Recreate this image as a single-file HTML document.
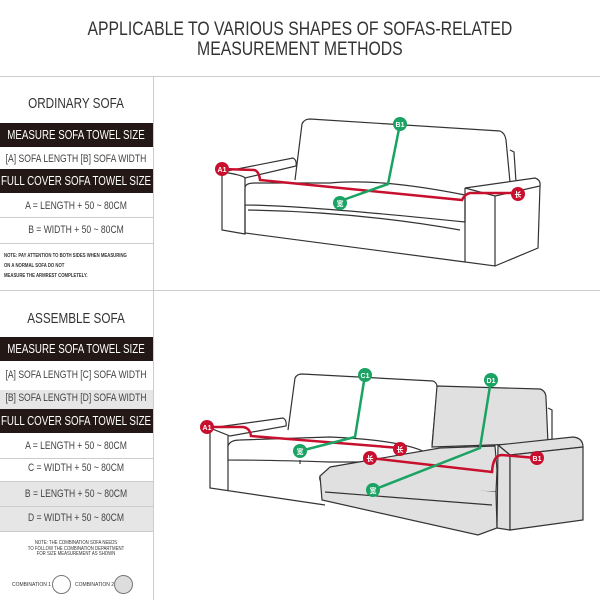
<!DOCTYPE html>
<html><head><meta charset="utf-8"><style>
body{margin:0;width:600px;height:600px;background:#fff;overflow:hidden;position:relative;font-family:"Liberation Sans",sans-serif;color:#333}
.a{position:absolute;left:0;width:153px;text-align:left;white-space:nowrap;overflow:hidden}
.a span{position:relative;left:76px;display:inline-block;text-align:center;transform:translateX(-50%) scaleX(0.78);transform-origin:center}
.bar{background:#231815;color:#fff;font-size:12.5px;line-height:24px;height:24px}
.row{font-size:11px;color:#444}
.line{position:absolute;left:0;width:153px;height:1px;background:#ccc}
.gray{background:#e6e6e6}
.note{position:absolute;font-size:5px;color:#333;left:4px;line-height:10px;font-weight:bold;transform:scaleX(0.85);transform-origin:left}
</style></head><body>
<div style="position:absolute;top:20px;left:0;width:600px;text-align:center;font-size:19px;line-height:20px;color:#333"><span style="display:inline-block;transform:scaleX(0.83)">APPLICABLE TO VARIOUS SHAPES OF SOFAS-RELATED<br>MEASUREMENT METHODS</span></div>
<div style="position:absolute;top:76px;left:0;width:600px;height:1px;background:#ccc"></div>
<div style="position:absolute;top:290px;left:0;width:600px;height:1px;background:#ccc"></div>
<div style="position:absolute;top:76px;left:153px;width:1px;height:524px;background:#ccc"></div>

<div class="a" style="top:95px;font-size:15px"><span>ORDINARY SOFA</span></div>
<div class="a bar" style="top:123px"><span>MEASURE SOFA TOWEL SIZE</span></div>
<div class="a row" style="top:153px"><span>[A] SOFA LENGTH [B] SOFA WIDTH</span></div>
<div class="a bar" style="top:169px"><span>FULL COVER SOFA TOWEL SIZE</span></div>
<div class="a row" style="top:200px"><span>A = LENGTH + 50 ~ 80CM</span></div>
<div class="line" style="top:217px"></div>
<div class="a row" style="top:224px"><span>B = WIDTH + 50 ~ 80CM</span></div>
<div class="line" style="top:243px"></div>
<div class="note" style="top:251px">NOTE: PAY ATTENTION TO BOTH SIDES WHEN MEASURING<br>ON A NORMAL SOFA DO NOT<br>MEASURE THE ARMREST COMPLETELY.</div>

<div class="a" style="top:310px;font-size:15px"><span>ASSEMBLE SOFA</span></div>
<div class="a bar" style="top:337px"><span>MEASURE SOFA TOWEL SIZE</span></div>
<div class="a row" style="top:369px"><span>[A] SOFA LENGTH [C] SOFA WIDTH</span></div>
<div class="line" style="top:390px"></div>
<div class="a row gray" style="top:390px;height:19px;line-height:17px"><span>[B] SOFA LENGTH [D] SOFA WIDTH</span></div>
<div class="a bar" style="top:409px"><span>FULL COVER SOFA TOWEL SIZE</span></div>
<div class="a row" style="top:440px"><span>A = LENGTH + 50 ~ 80CM</span></div>
<div class="line" style="top:458px"></div>
<div class="a row" style="top:462px"><span>C = WIDTH + 50 ~ 80CM</span></div>
<div class="a row gray" style="top:481px;height:49px;line-height:24px;border-top:1px solid #ccc;border-bottom:1px solid #ccc"><span>B = LENGTH + 50 ~ 80CM<br>D = WIDTH + 50 ~ 80CM</span></div>
<div class="line" style="top:506px"></div>
<div class="a" style="top:541px;height:22px;font-size:5.5px;line-height:5.5px;color:#333;overflow:visible"><span>NOTE: THE COMBINATION SOFA NEEDS<br>TO FOLLOW THE COMBINATION DEPARTMENT<br>FOR SIZE MEASUREMENT AS SHOWN</span></div>
<div style="position:absolute;top:582px;left:12px;font-size:5px">COMBINATION 1</div>
<div style="position:absolute;top:575px;left:52px;width:17px;height:17px;border:1px solid #777;border-radius:50%"></div>
<div style="position:absolute;top:582px;left:75px;font-size:5px">COMBINATION 2</div>
<div style="position:absolute;top:575px;left:114px;width:17px;height:17px;border:1px solid #777;border-radius:50%;background:#ddd"></div>

<svg width="600" height="600" style="position:absolute;left:0;top:0" fill="none" stroke="#333" stroke-width="1.2" font-family="Liberation Sans,Noto Sans CJK SC,sans-serif">
<!-- Sofa 1 -->
<path d="M295,180 L302,124 Q304,119 310,119 L500,131 Q505,133 506,140 L510,182" fill="#fff"/>
<path d="M510,150 L514,152 L516,182"/>
<path d="M222,172 L293,158 Q297,160 296,166 L245,178 Q243,175 222,172 Z" fill="#fff"/>
<path d="M222,172 L222,230 L245,234 L245,178"/>
<path d="M245,188 Q245,183 255,183 L330,183 Q380,178 465,195 L465,222 Q300,205 245,205 Z" fill="#fff"/>
<path d="M245,205 L245,233 L465,262"/>
<path d="M248,210 Q360,212 460,230"/>
<path d="M465,188 L535,178 Q541,180 540,186 L495,196 Z" fill="#fff"/>
<path d="M465,188 L465,262 L495,266 L495,196"/>
<path d="M540,186 L538,248 L495,266"/>
<path d="M222,169 L254,170 Q259,171 260,180 L462,200 Q465,194 470,193 L518,193" stroke="#c8102e" stroke-width="2.5"/>
<path d="M400,124 L388,184 L343,200" stroke="#1aa362" stroke-width="2.5"/>
<!-- Sofa 2 -->
<path d="M288,430 L295,378 Q297,374 302,374 L433,381 Q438,383 437,390 L432,445" fill="#fff"/>
<path d="M437,386 L540,389 Q546,391 546,398 L548,443 L432,447 Z" fill="#e0e0e0"/>
<path d="M548,408 L552,410 L552,440"/>
<path d="M210,428 L283,418 Q287,420 286,426 L230,436 Z" fill="#fff"/>
<path d="M210,428 L210,488 L325,505"/>
<path d="M228,436 L228,490"/>
<path d="M228,446 Q230,440 240,440 L330,437 Q400,440 425,452 L400,462 L330,462 Q270,460 228,460 Z" fill="#fff"/>
<path d="M300,460 L300,464"/>
<path d="M330,467 Q400,455 440,448 L495,446 L497,470 L496,492 L330,485 Q318,484 320,476 Z" fill="#e0e0e0"/>
<path d="M320,476 L322,500 L478,535 L497,528 L496,492" fill="#e0e0e0"/>
<path d="M325,492 L492,505"/>
<path d="M498,445 L573,437 Q583,438 583,447 L510,455 Z" fill="#e0e0e0"/>
<path d="M498,445 L497,528 L510,530 L510,455 Z" fill="#e0e0e0"/>
<path d="M583,447 L583,520 L510,530 L510,455 Z" fill="#e0e0e0"/>
<path d="M207,427 L243,427 Q250,428 251,436 L400,448" stroke="#c8102e" stroke-width="2.5"/>
<path d="M370,458 L492,472 Q493,455 502,455 L536,458" stroke="#c8102e" stroke-width="2.5"/>
<path d="M365,375 L355,437 L300,451" stroke="#1aa362" stroke-width="2.5"/>
<path d="M491,380 L480,448 L373,490" stroke="#1aa362" stroke-width="2.5"/>
<g stroke="none" font-size="7" font-weight="bold" text-anchor="middle" fill="#fff">
<circle cx="222" cy="169" r="7" fill="#c8102e"/><text x="222" y="172">A1</text>
<circle cx="518" cy="194" r="7" fill="#c8102e"/><text x="518" y="197">长</text>
<circle cx="400" cy="124" r="7" fill="#1aa362"/><text x="400" y="127">B1</text>
<circle cx="340" cy="203" r="7" fill="#1aa362"/><text x="340" y="206">宽</text>
<circle cx="207" cy="427" r="7" fill="#c8102e"/><text x="207" y="430">A1</text>
<circle cx="400" cy="449" r="7" fill="#c8102e"/><text x="400" y="452">长</text>
<circle cx="370" cy="458" r="7" fill="#c8102e"/><text x="370" y="461">长</text>
<circle cx="537" cy="458" r="7" fill="#c8102e"/><text x="537" y="461">B1</text>
<circle cx="365" cy="375" r="7" fill="#1aa362"/><text x="365" y="378">C1</text>
<circle cx="491" cy="380" r="7" fill="#1aa362"/><text x="491" y="383">D1</text>
<circle cx="300" cy="451" r="7" fill="#1aa362"/><text x="300" y="454">宽</text>
<circle cx="373" cy="490" r="7" fill="#1aa362"/><text x="373" y="493">宽</text>
</g>
</svg>
</body></html>
